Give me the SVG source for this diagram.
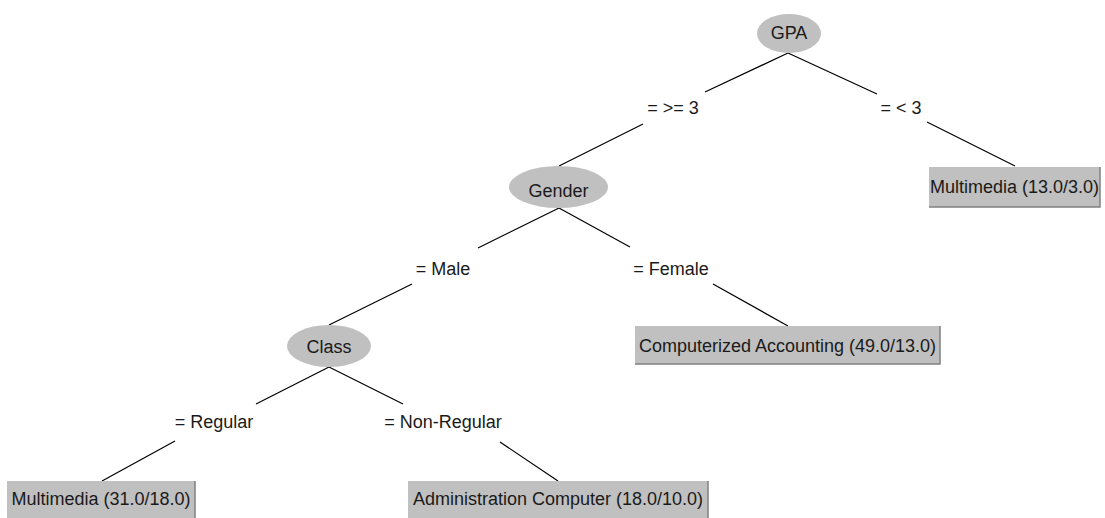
<svg xmlns="http://www.w3.org/2000/svg" width="1105" height="518" viewBox="0 0 1105 518">
<style>
  text { font-family: "Liberation Sans", Arial, sans-serif; font-size: 18px; fill: #1a1a1a; }
  .node ellipse { fill: #c0c0c0; }
  .leaf rect { fill: #c0c0c0; }
  .leaf path { fill: none; stroke: #808080; stroke-width: 1.5; }
  .edges path { fill: none; stroke: #000; stroke-width: 1.2; }
  .c { text-anchor: middle; }
</style>
<rect width="1105" height="518" fill="#fff"/>
<g class="edges" id="connectors">
  <path d="M788,53 L705,92 M643,124 L559,166"/>
  <path d="M788,53 L877,94 M927,122 L1015,166"/>
  <path d="M559,208 L478,248 M412,284 L329,325"/>
  <path d="M559,208 L630,247 M713,284 L788,326"/>
  <path d="M329,367 L256,404 M175,441 L102,481"/>
  <path d="M329,367 L403,404 M500,442 L558,481"/>
  <text x="673" y="114" class="c">= &gt;= 3</text>
  <text x="901" y="114" class="c">= &lt; 3</text>
  <text x="443" y="275" class="c">= Male</text>
  <text x="671" y="275" class="c">= Female</text>
  <text x="214" y="428" class="c">= Regular</text>
  <text x="443" y="428" class="c">= Non-Regular</text>
</g>
<g class="node" id="gpa">
  <ellipse cx="789" cy="33.5" rx="32" ry="19.5"/>
  <text x="789" y="39" class="c">GPA</text>
</g>
<g class="node" id="gender">
  <ellipse cx="558.5" cy="187" rx="49.5" ry="21"/>
  <text x="558.5" y="197" class="c">Gender</text>
</g>
<g class="node" id="class">
  <ellipse cx="329" cy="346" rx="42" ry="21"/>
  <text x="329" y="353" class="c">Class</text>
</g>
<g class="leaf" id="leaf-gpa-lt3">
  <rect x="929" y="167" width="171" height="40"/>
  <path d="M1100,167 V207 H929"/>
  <text x="1014.5" y="193" class="c">Multimedia (13.0/3.0)</text>
</g>
<g class="leaf" id="leaf-female">
  <rect x="635" y="326" width="305" height="38"/>
  <path d="M940,326 V364 H635"/>
  <text x="787.5" y="352" class="c">Computerized Accounting (49.0/13.0)</text>
</g>
<g class="leaf" id="leaf-regular">
  <rect x="7" y="481" width="188" height="40"/>
  <path d="M195,481 V518"/>
  <text x="101" y="505" class="c">Multimedia (31.0/18.0)</text>
</g>
<g class="leaf" id="leaf-nonregular">
  <rect x="408" y="481" width="300" height="40"/>
  <path d="M708,481 V518"/>
  <text x="558" y="505" class="c">Administration Computer (18.0/10.0)</text>
</g>
</svg>
